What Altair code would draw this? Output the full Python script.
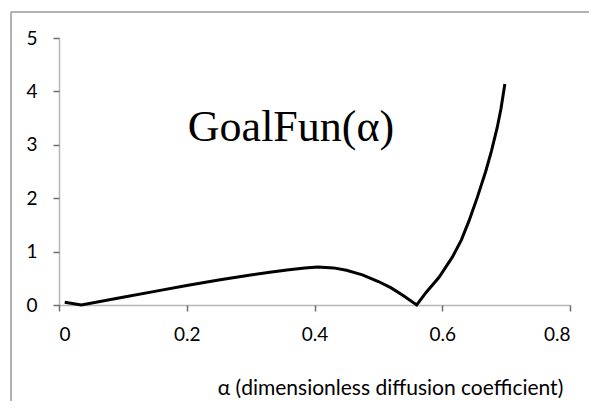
import altair as alt
import pandas as pd

alpha = [0.009, 0.035, 0.1, 0.15, 0.2, 0.25, 0.3, 0.33, 0.36, 0.385, 0.405, 0.43, 0.45, 0.475, 0.50,
         0.52, 0.54, 0.56, 0.575, 0.595, 0.616, 0.63, 0.642, 0.655, 0.668, 0.677, 0.686, 0.692, 0.698]
goal = [0.05, 0.0, 0.145, 0.255, 0.365, 0.47, 0.56, 0.615, 0.66, 0.695, 0.71, 0.695, 0.65, 0.565, 0.44,
        0.32, 0.17, 0.0, 0.24, 0.52, 0.9, 1.22, 1.58, 2.02, 2.5, 2.88, 3.32, 3.68, 4.14]

x_ticks = [0, 0.2, 0.4, 0.6, 0.8]
y_ticks = [0, 1, 2, 3, 4, 5]
x_title = "α (dimensionless diffusion coefficient)"
annotation = "GoalFun(α)"

df = pd.DataFrame({"alpha": alpha, "goal": goal})

FONT = "Lato"
AXIS_COLOR = "#6e6e6e"

line = alt.Chart(df).mark_line(color="black", strokeWidth=3, interpolate="linear").encode(
    x=alt.X("alpha:Q", scale=alt.Scale(domain=[0, 0.8], nice=False),
            axis=alt.Axis(values=x_ticks, format=".1~f", title=x_title,
                          labelFont=FONT, labelFontSize=19, labelColor="black", labelPadding=14,
                          titleFont=FONT, titleFontSize=21, titleFontWeight="normal", titleColor="black",
                          titleX=331, titleY=72, titleAnchor="middle", titleBaseline="top",
                          domainColor=AXIS_COLOR, tickColor=AXIS_COLOR, tickSize=6, grid=False,
                          domainDash=[1, 1], domainWidth=1.5, tickWidth=1.5)),
    y=alt.Y("goal:Q", scale=alt.Scale(domain=[0, 5], nice=False),
            axis=alt.Axis(values=y_ticks, title=None,
                          labelFont=FONT, labelFontSize=19, labelColor="black", labelPadding=16,
                          domainColor=AXIS_COLOR, tickColor=AXIS_COLOR, tickSize=6, grid=False,
                          domainDash=[1, 1], domainWidth=1.5, tickWidth=1.5)),
)

text = alt.Chart(pd.DataFrame({"t": [annotation]})).mark_text(
    font="Liberation Serif", fontSize=44, color="black", align="center", baseline="middle"
).encode(text="t:N", x=alt.value(232), y=alt.value(90))

border_left = alt.Chart(pd.DataFrame({"a": [0]})).mark_rule(color="#999999", strokeWidth=1.5).encode(
    x=alt.value(-48), y=alt.value(-26), y2=alt.value(400))
border_top = alt.Chart(pd.DataFrame({"a": [0]})).mark_rule(color="#999999", strokeWidth=1.5).encode(
    x=alt.value(-48), x2=alt.value(560), y=alt.value(-26))

chart = alt.layer(border_left, border_top, line, text).properties(
    width=511, height=267, autosize="none",
    padding={"left": 51, "top": 30, "right": 19, "bottom": 96},
).configure_view(stroke=None)

chart.save("out.html", embed_options={"renderer": "svg", "actions": False})
